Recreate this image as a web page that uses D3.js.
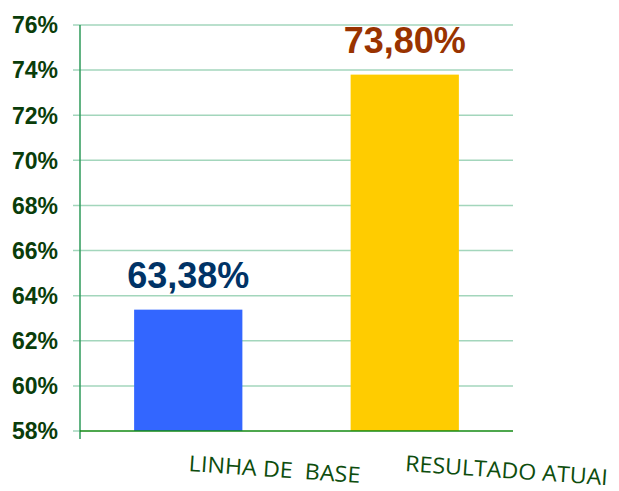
<!DOCTYPE html>
<html>
<head>
<meta charset="utf-8">
<script src="https://cdn.jsdelivr.net/npm/d3@7"></script>
<style>
  body { margin: 0; background: #fff; }
  svg { display: block; }
</style>
</head>
<body>
<svg id="chart"></svg>
<script>
/* CONSTANTS AND GLOBALS */
const width = 619, height = 491;
const margin = { top: 25, right: 106, bottom: 60, left: 80 };

// data
const categories = ["LINHA DE  BASE", "RESULTADO ATUAI"];
const values = [63.38, 73.80];
const valueLabels = ["63,38%", "73,80%"];
const barColors = ["#3366ff", "#ffcc00"];
const labelColors = ["#003366", "#993300"];
const yTicks = [58, 60, 62, 64, 66, 68, 70, 72, 74, 76];

const svg = d3.select("#chart")
  .attr("width", width)
  .attr("height", height);

const x = d3.scaleBand()
  .domain(categories)
  .range([margin.left, width - margin.right])
  .paddingInner(0.5)
  .paddingOuter(0.25);

const y = d3.scaleLinear()
  .domain([58, 76])
  .range([height - margin.bottom, margin.top]);

// gridlines
svg.append("g")
  .selectAll("line")
  .data(yTicks.slice(1))
  .join("line")
    .attr("x1", margin.left - 7)
    .attr("x2", width - margin.right)
    .attr("y1", d => y(d))
    .attr("y2", d => y(d))
    .attr("stroke", "#a3d6bc")
    .attr("stroke-width", 1.5);

// small tick at 58
svg.append("line")
  .attr("x1", margin.left - 7)
  .attr("x2", margin.left)
  .attr("y1", y(58))
  .attr("y2", y(58))
  .attr("stroke", "#a3d6bc")
  .attr("stroke-width", 1.5);

// y tick labels
svg.append("g")
  .selectAll("text")
  .data(yTicks)
  .join("text")
    .attr("x", 58)
    .attr("y", d => y(d))
    .attr("dy", "0.36em")
    .attr("text-anchor", "end")
    .attr("font-family", "Liberation Sans, Arial, sans-serif")
    .attr("font-weight", "bold")
    .attr("font-size", 23)
    .attr("fill", "#0a3d0a")
    .text(d => d + "%");

// bars
svg.append("g")
  .selectAll("rect")
  .data(values)
  .join("rect")
    .attr("x", (d, i) => x(categories[i]))
    .attr("y", d => y(d))
    .attr("width", x.bandwidth())
    .attr("height", d => y(58) - y(d))
    .attr("fill", (d, i) => barColors[i]);

// value labels
svg.append("g")
  .selectAll("text")
  .data(values)
  .join("text")
    .attr("x", (d, i) => x(categories[i]) + x.bandwidth() / 2)
    .attr("y", d => y(d) - 22)
    .attr("text-anchor", "middle")
    .attr("font-family", "Liberation Sans, Arial, sans-serif")
    .attr("font-weight", "bold")
    .attr("font-size", 36)
    .attr("fill", (d, i) => labelColors[i])
    .text((d, i) => valueLabels[i]);

// y axis line
svg.append("line")
  .attr("x1", margin.left)
  .attr("x2", margin.left)
  .attr("y1", y(76))
  .attr("y2", y(58) + 8)
  .attr("stroke", "#2e9a5a")
  .attr("stroke-width", 1.5);

// baseline
svg.append("line")
  .attr("x1", margin.left)
  .attr("x2", width - margin.right)
  .attr("y1", y(58))
  .attr("y2", y(58))
  .attr("stroke", "#138a13")
  .attr("stroke-width", 1.5);

// category labels, slightly tilted
const catWidths = [172, 203];
svg.append("g")
  .selectAll("text")
  .data(categories)
  .join("text")
    .attr("transform", d => `translate(${x(d) + x.bandwidth() / 2},${y(58) + 40}) rotate(4)`)
    .attr("text-anchor", "start")
    .attr("font-family", "Open Sans, sans-serif")
    .attr("font-size", 22)
    .attr("fill", "#0d4d0d")
    .attr("textLength", (d, i) => catWidths[i])
    .attr("lengthAdjust", "spacingAndGlyphs")
    .attr("xml:space", "preserve")
    .text(d => d);
</script>
</body>
</html>
